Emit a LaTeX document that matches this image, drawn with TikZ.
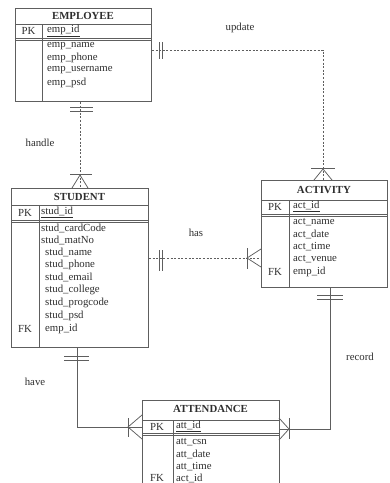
\documentclass[tikz,border=0pt]{standalone}
\usepackage{fontspec}
\setmainfont{Liberation Serif}
\definecolor{lc}{HTML}{5E5E5E}
\definecolor{tc}{HTML}{2E2E2E}
\begin{document}
\begin{tikzpicture}[x=1pt,y=-1pt,
  ent/.style={draw=lc, line width=0.9pt, inner sep=0, anchor=north west},
  sep/.style={draw=lc, line width=0.75pt},
  ttl/.style={font=\bfseries\fontsize{10.8}{12}\selectfont, text=tc, inner sep=0},
  att/.style={anchor=west, font=\fontsize{10.8}{12}\selectfont, text=tc, inner sep=0},
  key/.style={font=\fontsize{10.8}{12}\selectfont, text=tc, inner sep=0},
  lbl/.style={font=\fontsize{10.8}{12}\selectfont, text=tc, inner sep=0},
  conn/.style={draw=lc, line width=0.75pt},
  dconn/.style={draw=lc, line width=0.75pt, dash pattern=on 2pt off 1.6pt},
  tick/.style={draw=lc, line width=0.75pt}
]
\useasboundingbox (0,0) rectangle (390,483);

% ---------- EMPLOYEE ----------
\node[ent, minimum width=136pt, minimum height=93pt] (emp) at (15,8) {};
\node[ttl] (empT) at (83,16) {EMPLOYEE};
\draw[sep] (15,24) -- (151,24);
\draw[sep] (15,38) -- (151,38);
\draw[sep] (15,40.5) -- (151,40.5);
\draw[sep] (42,24) -- (42,101);
\node[key] (empPK) at (28.5,30.5) {PK};
\node[att] (e1) at (47,30.5) {\underline{emp\_id}};
\node[att] (e2) at (47,46) {emp\_name};
\node[att] (e3) at (47,58) {emp\_phone};
\node[att] (e4) at (47,70.5) {emp\_username};
\node[att] (e5) at (47,83) {emp\_psd};

% ---------- STUDENT ----------
\node[ent, minimum width=137pt, minimum height=159pt] (stu) at (11,188) {};
\node[ttl] (stuT) at (79.5,197) {STUDENT};
\draw[sep] (11,205) -- (148,205);
\draw[sep] (11,220) -- (148,220);
\draw[sep] (11,222.5) -- (148,222.5);
\draw[sep] (39,205) -- (39,347);
\node[key] (stuPK) at (25,212.5) {PK};
\node[att] (s0) at (41,212.5) {\underline{stud\_id}};
\node[att] (s1) at (41,228) {stud\_cardCode};
\node[att] (s2) at (41,240) {stud\_matNo};
\node[att] (s3) at (45,252.5) {stud\_name};
\node[att] (s4) at (45,265) {stud\_phone};
\node[att] (s5) at (45,277.5) {stud\_email};
\node[att] (s6) at (45,290) {stud\_college};
\node[att] (s7) at (45,303) {stud\_progcode};
\node[att] (s8) at (45,316) {stud\_psd};
\node[att] (s9) at (45,329) {emp\_id};
\node[key] (stuFK) at (25,329) {FK};

% ---------- ACTIVITY ----------
\node[ent, minimum width=126pt, minimum height=107pt] (act) at (261,180) {};
\node[ttl] (actT) at (324,190) {ACTIVITY};
\draw[sep] (261,200) -- (387,200);
\draw[sep] (261,214) -- (387,214);
\draw[sep] (261,216.5) -- (387,216.5);
\draw[sep] (289,200) -- (289,287);
\node[key] (actPK) at (275,206.5) {PK};
\node[att] (a0) at (293,206.5) {\underline{act\_id}};
\node[att] (a1) at (293,222) {act\_name};
\node[att] (a2) at (293,234) {act\_date};
\node[att] (a3) at (293,246.5) {act\_time};
\node[att] (a4) at (293,259) {act\_venue};
\node[att] (a5) at (293,272) {emp\_id};
\node[key] (actFK) at (275,272) {FK};

% ---------- ATTENDANCE ----------
\node[ent, minimum width=137pt, minimum height=95pt] (att) at (142,400) {};
\node[ttl] (attT) at (210.5,409) {ATTENDANCE};
\draw[sep] (142,420) -- (279,420);
\draw[sep] (142,433) -- (279,433);
\draw[sep] (142,435.5) -- (279,435.5);
\draw[sep] (173,420) -- (173,495);
\node[key] (attPK) at (157,426.5) {PK};
\node[att] (t0) at (176,426.5) {\underline{att\_id}};
\node[att] (t1) at (176,442) {att\_csn};
\node[att] (t2) at (176,454) {att\_date};
\node[att] (t3) at (176,466.5) {att\_time};
\node[att] (t4) at (176,478) {act\_id};
\node[key] (attFK) at (157,478) {FK};

% ---------- connector end points ----------
\coordinate (uA) at (emp.east |- 0,50);
\coordinate (uB) at (323,50);
\coordinate (hA) at (80,0 |- emp.south);
\coordinate (sA) at (stu.east |- 0,258);
\coordinate (hvA) at (77,0 |- stu.south);
\coordinate (hvB) at (77,427);
\coordinate (rA) at (330,0 |- act.south);
\coordinate (rB) at (330,429);

% update
\draw[dconn] (uA) -- (uB) -- (uB |- act.north);
\draw[tick] (159,42) -- (159,59) (162,42) -- (162,59);
\draw[tick] (311,168) -- (335,168);
\draw[tick] (314,180) -- (323,169) -- (332,180);
\node[lbl] (lupd) at (240,28) {update};

% handle
\draw[dconn] (hA) -- (hA |- stu.north);
\draw[tick] (70,107) -- (93,107) (70,111) -- (93,111);
\draw[tick] (70,174) -- (92,174);
\draw[tick] (72,188) -- (80,175) -- (88,188);
\node[lbl] (lhan) at (40,143) {handle};

% has
\draw[dconn] (sA) -- (sA -| act.west);
\draw[tick] (159,250) -- (159,271) (162,250) -- (162,271);
\draw[tick] (247,248) -- (247,269);
\draw[tick] (261,249) -- (247,258) -- (261,267);
\node[lbl] (lhas) at (196,233) {has};

% have
\draw[conn] (hvA) -- (hvB) -- (hvB -| att.west);
\draw[tick] (64,356) -- (89,356) (64,360) -- (89,360);
\draw[tick] (128,418) -- (128,437);
\draw[tick] (142,415) -- (128,427) -- (142,439);
\node[lbl] (lhav) at (35,382) {have};

% record
\draw[conn] (rA) -- (rB) -- (rB -| att.east);
\draw[tick] (317,295) -- (343,295) (317,299.5) -- (343,299.5);
\draw[tick] (289,418) -- (289,439);
\draw[tick] (279,418) -- (289,429) -- (279,440);
\node[lbl] (lrec) at (360,357) {record};
\end{tikzpicture}
\end{document}
